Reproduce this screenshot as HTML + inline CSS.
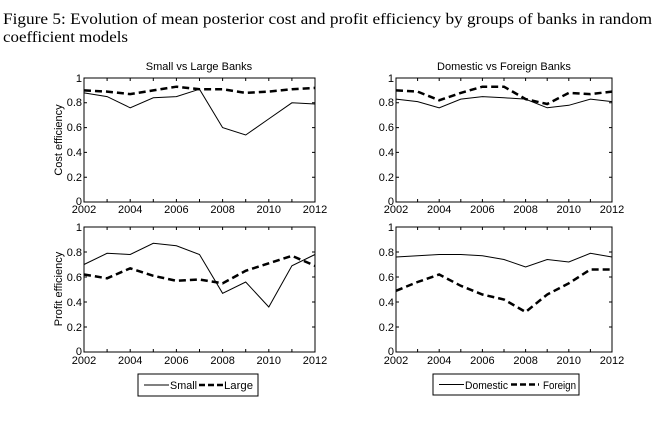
<!DOCTYPE html>
<html><head><meta charset="utf-8"><style>
html,body{margin:0;padding:0;background:#fff;}
body{width:657px;height:421px;overflow:hidden;position:relative;}
svg{position:absolute;left:0;top:0;}
text{font-family:"Liberation Sans",sans-serif;font-size:11px;fill:#000;}
text.s{font-family:"Liberation Serif",serif;font-size:15.5px;}
</style></head><body>
<svg width="657" height="421" viewBox="0 0 657 421">
<text class="s" x="3" y="24" textLength="649" lengthAdjust="spacingAndGlyphs">Figure 5: Evolution of mean posterior cost and profit efficiency by groups of banks in random</text>
<text class="s" x="3" y="42" textLength="125" lengthAdjust="spacingAndGlyphs">coefficient models</text>
<g fill="none" stroke="#000" stroke-width="1">
<rect x="84" y="78" width="231" height="124"/>
<rect x="84" y="227" width="231" height="125"/>
<rect x="396" y="78" width="216" height="124"/>
<rect x="396" y="227" width="216" height="125"/>
<path d="M107.1,202v-3M130.2,202v-3M153.3,202v-3M176.4,202v-3M199.5,202v-3M222.6,202v-3M245.7,202v-3M268.8,202v-3M291.9,202v-3M107.1,78v3M130.2,78v3M153.3,78v3M176.4,78v3M199.5,78v3M222.6,78v3M245.7,78v3M268.8,78v3M291.9,78v3
M84,177.2h3M84,152.4h3M84,127.6h3M84,102.8h3M315,177.2h-3M315,152.4h-3M315,127.6h-3M315,102.8h-3"/>
<path transform="translate(0,150)" d="M107.1,202v-3M130.2,202v-3M153.3,202v-3M176.4,202v-3M199.5,202v-3M222.6,202v-3M245.7,202v-3M268.8,202v-3M291.9,202v-3M107.1,77v3M130.2,77v3M153.3,77v3M176.4,77v3M199.5,77v3M222.6,77v3M245.7,77v3M268.8,77v3M291.9,77v3
M84,177h3M84,152h3M84,127h3M84,102h3M315,177h-3M315,152h-3M315,127h-3M315,102h-3"/>
<path d="M417.6,202v-3M439.2,202v-3M460.8,202v-3M482.4,202v-3M504,202v-3M525.6,202v-3M547.2,202v-3M568.8,202v-3M590.4,202v-3M417.6,78v3M439.2,78v3M460.8,78v3M482.4,78v3M504,78v3M525.6,78v3M547.2,78v3M568.8,78v3M590.4,78v3
M396,177.2h3M396,152.4h3M396,127.6h3M396,102.8h3M612,177.2h-3M612,152.4h-3M612,127.6h-3M612,102.8h-3"/>
<path transform="translate(0,150)" d="M417.6,202v-3M439.2,202v-3M460.8,202v-3M482.4,202v-3M504,202v-3M525.6,202v-3M547.2,202v-3M568.8,202v-3M590.4,202v-3M417.6,77v3M439.2,77v3M460.8,77v3M482.4,77v3M504,77v3M525.6,77v3M547.2,77v3M568.8,77v3M590.4,77v3
M396,177h3M396,152h3M396,127h3M396,102h3M612,177h-3M612,152h-3M612,127h-3M612,102h-3"/>
<polyline points="84,92.9 107.1,96.6 130.2,107.8 153.3,97.8 176.4,96.6 199.5,89.2 222.6,127.6 245.7,135 268.8,118.9 291.9,102.8 315,104"/>
<polyline stroke-width="2.5" stroke-dasharray="7,4" points="84,90.4 107.1,91.6 130.2,94.1 153.3,90.4 176.4,86.7 199.5,89.2 222.6,89.2 245.7,92.9 268.8,91.6 291.9,89.2 315,87.9"/>
<polyline points="84,264.5 107.1,253.3 130.2,254.5 153.3,243.3 176.4,245.8 199.5,254.5 222.6,293.3 245.7,282 268.8,307 291.9,265.8 315,254.5"/>
<polyline stroke-width="2.5" stroke-dasharray="7,4" points="84,274.5 107.1,278.3 130.2,268.3 153.3,275.8 176.4,280.8 199.5,279.5 222.6,283.3 245.7,270.8 268.8,263.3 291.9,255.8 315,265.8"/>
<polyline points="396,99.1 417.6,101.6 439.2,107.8 460.8,99.1 482.4,96.6 504,97.8 525.6,99.1 547.2,107.8 568.8,105.3 590.4,99.1 612,101.6"/>
<polyline stroke-width="2.5" stroke-dasharray="7,4" points="396,90.4 417.6,91.6 439.2,100.3 460.8,92.9 482.4,86.7 504,86.7 525.6,99.1 547.2,104 568.8,92.9 590.4,94.1 612,91.6"/>
<polyline points="396,257 417.6,255.8 439.2,254.5 460.8,254.5 482.4,255.8 504,259.5 525.6,267 547.2,259.5 568.8,262 590.4,253.3 612,257"/>
<polyline stroke-width="2.5" stroke-dasharray="7,4" points="396,290.8 417.6,282 439.2,274.5 460.8,285.8 482.4,294.5 504,299.5 525.6,312 547.2,294.5 568.8,283.3 590.4,269.5 612,269.5"/>
<rect x="138" y="374" width="120" height="22"/>
<path d="M144,385h25"/>
<path d="M199,385h24" stroke-width="2.5" stroke-dasharray="6,3"/>
<rect x="433" y="374" width="146" height="21"/>
<path d="M439,384.5h25"/>
<path d="M511,384.5h28" stroke-width="2.5" stroke-dasharray="6,3"/>
</g>
<text x="199" y="70" text-anchor="middle" font-size="12">Small vs Large Banks</text>
<text x="504" y="70" text-anchor="middle" font-size="12">Domestic vs Foreign Banks</text>
<g text-anchor="end">
<text x="82" y="82">1</text><text x="82" y="106">0.8</text><text x="82" y="131">0.6</text><text x="82" y="156">0.4</text><text x="82" y="181">0.2</text><text x="82" y="205">0</text>
<text x="82" y="231">1</text><text x="82" y="256">0.8</text><text x="82" y="281">0.6</text><text x="82" y="306">0.4</text><text x="82" y="331">0.2</text><text x="82" y="355">0</text>
<text x="394" y="82">1</text><text x="394" y="106">0.8</text><text x="394" y="131">0.6</text><text x="394" y="156">0.4</text><text x="394" y="181">0.2</text><text x="394" y="205">0</text>
<text x="394" y="231">1</text><text x="394" y="256">0.8</text><text x="394" y="281">0.6</text><text x="394" y="306">0.4</text><text x="394" y="331">0.2</text><text x="394" y="355">0</text>
</g>
<g text-anchor="middle">
<text x="84" y="213">2002</text><text x="130.2" y="213">2004</text><text x="176.4" y="213">2006</text><text x="222.6" y="213">2008</text><text x="268.8" y="213">2010</text><text x="315" y="213">2012</text>
<text x="84" y="364">2002</text><text x="130.2" y="364">2004</text><text x="176.4" y="364">2006</text><text x="222.6" y="364">2008</text><text x="268.8" y="364">2010</text><text x="315" y="364">2012</text>
<text x="396" y="213">2002</text><text x="439.2" y="213">2004</text><text x="482.4" y="213">2006</text><text x="525.6" y="213">2008</text><text x="568.8" y="213">2010</text><text x="612" y="213">2012</text>
<text x="396" y="364">2002</text><text x="439.2" y="364">2004</text><text x="482.4" y="364">2006</text><text x="525.6" y="364">2008</text><text x="568.8" y="364">2010</text><text x="612" y="364">2012</text>
</g>
<text transform="translate(62,140) rotate(-90)" text-anchor="middle" font-size="11.5">Cost efficiency</text>
<text transform="translate(62,289) rotate(-90)" text-anchor="middle" font-size="11.5">Profit efficiency</text>
<text x="170" y="389" font-size="12" textLength="27" lengthAdjust="spacingAndGlyphs">Small</text>
<text x="224" y="389" font-size="12" textLength="29" lengthAdjust="spacingAndGlyphs">Large</text>
<text x="465" y="389" font-size="12" textLength="43" lengthAdjust="spacingAndGlyphs">Domestic</text>
<text x="543" y="389" font-size="12" textLength="33" lengthAdjust="spacingAndGlyphs">Foreign</text>
</svg>
</body></html>
